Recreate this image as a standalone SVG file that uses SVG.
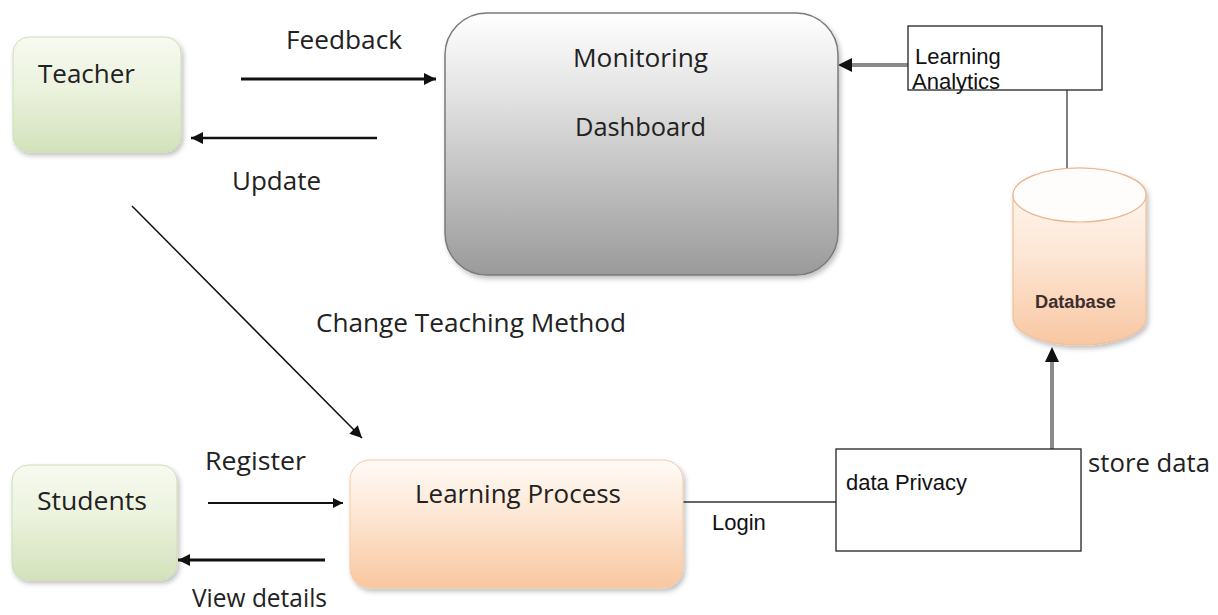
<svg xmlns="http://www.w3.org/2000/svg" width="1218" height="615" viewBox="0 0 1218 615">
<defs>
<style>
.cal{font-family:"Open Sans","Liberation Sans",sans-serif;font-size:25px;fill:#222}
.ar{font-family:"Liberation Sans",Arial,sans-serif;font-size:22px;fill:#111}
.blk{stroke:#111;fill:none}
.gry{stroke:#8a8a8a;fill:none}
</style>
<linearGradient id="green" x1="0" y1="0" x2="0" y2="1">
<stop offset="0" stop-color="#f7faf0"/>
<stop offset="0.45" stop-color="#ebf2dd"/>
<stop offset="1" stop-color="#d3e2bb"/>
</linearGradient>
<linearGradient id="peach" x1="0" y1="0" x2="0" y2="1">
<stop offset="0" stop-color="#fffbf7"/>
<stop offset="0.4" stop-color="#fde8d6"/>
<stop offset="1" stop-color="#f9c79f"/>
</linearGradient>
<linearGradient id="grey" x1="0" y1="0" x2="0" y2="1">
<stop offset="0" stop-color="#ffffff"/>
<stop offset="0.3" stop-color="#e4e4e4"/>
<stop offset="1" stop-color="#9a9a9a"/>
</linearGradient>
<linearGradient id="cyl" x1="0" y1="0" x2="0" y2="1">
<stop offset="0" stop-color="#fffaf6"/>
<stop offset="0.5" stop-color="#fde6d4"/>
<stop offset="1" stop-color="#f8c7a2"/>
</linearGradient>
<filter id="sh" x="-10%" y="-10%" width="125%" height="130%">
<feDropShadow dx="2" dy="3" stdDeviation="2.5" flood-color="#000" flood-opacity="0.25"/>
</filter>
<marker id="ah" viewBox="0 0 10 10" refX="10" refY="5" markerWidth="14" markerHeight="12" markerUnits="userSpaceOnUse" orient="auto">
<path d="M0,0 L10,5 L0,10 z" fill="#111"/>
</marker>
<marker id="ahs" viewBox="0 0 10 10" refX="10" refY="5" markerWidth="12" markerHeight="10" markerUnits="userSpaceOnUse" orient="auto">
<path d="M0,0 L10,5 L0,10 z" fill="#111"/>
</marker>
</defs>

<g id="connectors">
<line class="blk" x1="241" y1="79" x2="436" y2="79" stroke-width="3" marker-end="url(#ah)"/>
<line class="blk" x1="377" y1="138" x2="191" y2="138" stroke-width="2.5" marker-end="url(#ah)"/>
<line class="blk" x1="132" y1="206" x2="362" y2="438" stroke-width="1.5" marker-end="url(#ah)"/>
<line class="blk" x1="208" y1="503" x2="343" y2="503" stroke-width="2" marker-end="url(#ahs)"/>
<line class="blk" x1="325" y1="560" x2="178" y2="560" stroke-width="3" marker-end="url(#ah)"/>
<line x1="683" y1="502" x2="836" y2="502" stroke="#666" stroke-width="2"/>
<line class="gry" x1="1052" y1="449" x2="1052" y2="362" stroke-width="4"/>
<path d="M1045,362 L1052,347 L1059,362 z" fill="#111"/>
<line class="gry" x1="909" y1="65" x2="852" y2="65" stroke-width="4"/>
<path d="M852,58 L838,65 L852,72 z" fill="#111"/>
<line x1="1067" y1="90" x2="1067" y2="168" stroke="#555" stroke-width="1.5"/>
<text class="cal" x="286" y="49" textLength="116" lengthAdjust="spacingAndGlyphs">Feedback</text>
<text class="cal" x="232" y="190" textLength="89" lengthAdjust="spacingAndGlyphs">Update</text>
<text class="cal" x="316" y="332" textLength="310" lengthAdjust="spacingAndGlyphs">Change Teaching Method</text>
<text class="cal" x="205" y="470" textLength="101" lengthAdjust="spacingAndGlyphs">Register</text>
<text class="cal" x="192" y="607" textLength="135" lengthAdjust="spacingAndGlyphs">View details</text>
<text class="ar" x="712" y="530">Login</text>
<text class="cal" x="1088" y="472" textLength="122" lengthAdjust="spacingAndGlyphs">store data</text>
</g>

<g id="teacher">
<rect x="13" y="37" width="168" height="115" rx="16" fill="url(#green)" stroke="#cfdcb9" stroke-width="1" filter="url(#sh)"/>
<text class="cal" x="38" y="83" textLength="97" lengthAdjust="spacingAndGlyphs">Teacher</text>
</g>

<g id="dashboard">
<rect x="445" y="13" width="393" height="262" rx="42" fill="url(#grey)" stroke="#7a7a7a" stroke-width="1.5" filter="url(#sh)"/>
<text class="cal" x="573" y="67" textLength="135" lengthAdjust="spacingAndGlyphs">Monitoring</text>
<text class="cal" x="575" y="136" textLength="131" lengthAdjust="spacingAndGlyphs">Dashboard</text>
</g>

<g id="learning-analytics">
<rect x="908" y="26" width="194" height="64" fill="#fff" stroke="#222" stroke-width="1.3"/>
<text class="ar" x="915" y="64">Learning</text>
<text class="ar" x="912" y="89">Analytics</text>
</g>

<g id="database">
<path d="M1013,195 L1013,318 A66.5,27 0 0 0 1146,318 L1146,195 A66.5,27 0 0 0 1013,195 z" fill="url(#cyl)" stroke="#f0c09a" stroke-width="1.2" filter="url(#sh)"/>
<ellipse cx="1079.5" cy="195" rx="66.5" ry="27" fill="#fffdfb" stroke="#eab692" stroke-width="1.2"/>
<text x="1035" y="308" font-family="Liberation Sans, Arial, sans-serif" font-size="18" font-weight="bold" fill="#3e2e2e" textLength="81" lengthAdjust="spacingAndGlyphs">Database</text>
</g>

<g id="students">
<rect x="12" y="465" width="165" height="115" rx="16" fill="url(#green)" stroke="#cfdcb9" stroke-width="1" filter="url(#sh)"/>
<text class="cal" x="37" y="510" textLength="110" lengthAdjust="spacingAndGlyphs">Students</text>
</g>

<g id="learning-process">
<rect x="350" y="460" width="333" height="128" rx="20" fill="url(#peach)" stroke="#f3cba8" stroke-width="1" filter="url(#sh)"/>
<text class="cal" x="415" y="503" textLength="206" lengthAdjust="spacingAndGlyphs">Learning Process</text>
</g>

<g id="data-privacy">
<rect x="836" y="449" width="245" height="102" fill="#fff" stroke="#222" stroke-width="1.3"/>
<text class="ar" x="846" y="490">data Privacy</text>
</g>
</svg>
